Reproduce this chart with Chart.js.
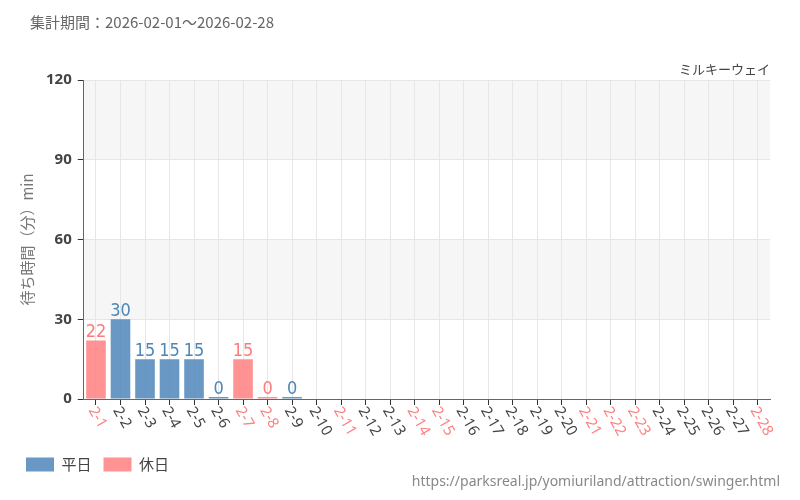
<!DOCTYPE html>
<html>
<head>
<meta charset="utf-8">
<script src="https://cdn.jsdelivr.net/npm/chart.js@4"></script>
<style>
  body { margin: 0; background: #fff; }
  #wrap { position: relative; width: 800px; height: 500px; }
</style>
</head>
<body>
<div id="wrap"><canvas id="canvasWait" width="800" height="500"></canvas></div>
<script>
const days = ["2-1","2-2","2-3","2-4","2-5","2-6","2-7","2-8","2-9","2-10","2-11","2-12","2-13","2-14",
  "2-15","2-16","2-17","2-18","2-19","2-20","2-21","2-22","2-23","2-24","2-25","2-26","2-27","2-28"];
const holidays = ["2-1","2-7","2-8","2-11","2-14","2-15","2-21","2-22","2-23","2-28"];
const waitTimes = [22,30,15,15,15,0,15,0,0,null,null,null,null,null,null,null,null,null,null,null,null,null,null,null,null,null,null,null];
const yTicks = [0,30,60,90,120];

const weekdayData = waitTimes.map((v, i) => holidays.includes(days[i]) ? null : v);
const holidayData = waitTimes.map((v, i) => holidays.includes(days[i]) ? v : null);

const bands = {
  id: 'bands',
  beforeDraw(chart) {
    const { ctx, chartArea: a, scales: { y } } = chart;
    ctx.save();
    ctx.fillStyle = '#f6f6f6';
    [[30,60],[90,120]].forEach(([lo, hi]) => {
      ctx.fillRect(a.left, y.getPixelForValue(hi), a.right - a.left, y.getPixelForValue(lo) - y.getPixelForValue(hi));
    });
    ctx.restore();
  },
  afterDraw(chart) {
    const ctx = chart.ctx;
    const x = chart.scales.x;
    ctx.save();
    chart.data.datasets.forEach((ds, di) => {
      chart.getDatasetMeta(di).data.forEach((bar, i) => {
        const v = ds.data[i];
        if (v === null) return;
        ctx.fillStyle = di === 0 ? '#4d86b8' : '#ff7a7a';
        ctx.font = '18px "Liberation Sans Narrow", "DejaVu Sans Condensed", sans-serif';
        ctx.textAlign = 'center';
        ctx.textBaseline = 'bottom';
        ctx.fillText(String(v), bar.x, Math.min(bar.y, bar.base - 1) + 1);
      });
    });
    // x labels rotated clockwise
    ctx.font = '15px "Noto Sans", sans-serif';
    ctx.textAlign = 'left';
    ctx.textBaseline = 'middle';
    days.forEach((d, i) => {
      ctx.save();
      ctx.translate(x.getPixelForValue(i) - 4, x.top + 9);
      ctx.rotate(Math.PI / 3);
      ctx.fillStyle = holidays.includes(d) ? '#ff8080' : '#444';
      ctx.fillText(d, 0, 0);
      ctx.restore();
    });
    ctx.fillStyle = '#666';
    ctx.font = '15px "Noto Sans CJK JP", sans-serif';
    ctx.textAlign = 'left';
    ctx.fillText('集計期間：2026-02-01～2026-02-28', 30, 22);
    ctx.fillStyle = '#444';
    ctx.font = '13px "Noto Sans CJK JP", sans-serif';
    ctx.textAlign = 'right';
    ctx.fillText('ミルキーウェイ', 770, 69);
    ctx.fillStyle = '#888';
    ctx.font = '14px "Noto Sans", sans-serif';
    ctx.fillText('https://parksreal.jp/yomiuriland/attraction/swinger.html', 780, 482);
    ctx.restore();
  }
};

new Chart(document.getElementById('canvasWait').getContext('2d'), {
  type: 'bar',
  data: {
    labels: days,
    datasets: [
      { label: '平日', data: weekdayData, backgroundColor: 'rgba(77,134,184,0.85)', minBarLength: 2 },
      { label: '休日', data: holidayData, backgroundColor: 'rgba(255,128,128,0.85)', minBarLength: 2 }
    ]
  },
  options: {
    responsive: false,
    animation: false,
    layout: { padding: { left: 14, right: 30, top: 80, bottom: 18 } },
    datasets: { bar: { barPercentage: 0.8, categoryPercentage: 1.0 } },
    plugins: {
      tooltip: { enabled: false },
      legend: {
        position: 'bottom', align: 'start',
        labels: { boxWidth: 28, boxHeight: 14, color: '#444', padding: 12, font: { size: 15, family: '"Noto Sans CJK JP"' } }
      }
    },
    scales: {
      x: {
        stacked: true,
        grid: { color: '#e6e6e6', offset: false, tickColor: '#333', tickLength: 6 },
        border: { color: '#666' },
        ticks: { display: false },
        afterFit: axis => { axis.height = 46; }
      },
      y: {
        stacked: true,
        min: 0, max: 120,
        afterBuildTicks: axis => { axis.ticks = yTicks.map(v => ({ value: v })); },
        grid: { color: '#e6e6e6', tickColor: '#333', tickLength: 6 },
        border: { color: '#666' },
        ticks: { color: '#444', padding: 6, font: { size: 15, weight: 'bold', family: '"Noto Sans"' } },
        title: { display: true, text: '待ち時間（分）min', color: '#777', padding: { bottom: 4 }, font: { size: 15, family: '"Noto Sans CJK JP"' } }
      }
    }
  },
  plugins: [bands]
});
</script>
</body>
</html>
